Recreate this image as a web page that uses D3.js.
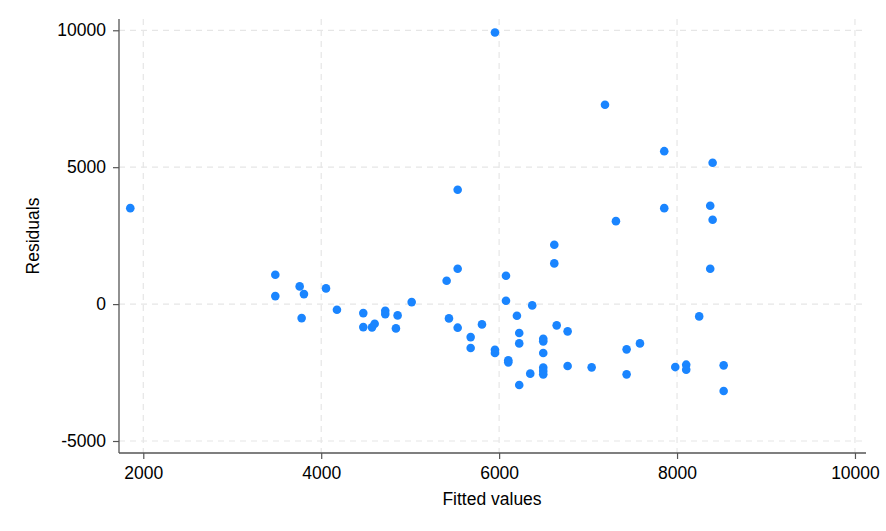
<!DOCTYPE html>
<html>
<head>
<meta charset="utf-8">
<script src="https://cdn.jsdelivr.net/npm/d3@7"></script>
<style>
  html, body { margin: 0; padding: 0; background: #fff; }
  svg { display: block; }
  text { font-family: "Liberation Sans", Arial, sans-serif; fill: #000; }
</style>
</head>
<body>
<svg id="chart" width="886" height="531"></svg>
<script>
const fitted = [
  1854, 5953, 7190, 7856, 5534, 7856, 7313, 6620, 8400, 8373,
  8400, 8373, 8249, 7980, 8103, 8103, 8524, 8524, 3484, 3484,
  3758, 3806, 3780, 4054, 4177, 4473, 4473, 4571, 4601, 4720,
  4720, 4840, 4859, 5017, 5410, 5534, 5436, 5534, 5807, 5680,
  5680, 5953, 5953, 6077, 6077, 6103, 6103, 6200, 6226, 6226,
  6226, 6372, 6350, 6496, 6496, 6496, 6496, 6496, 6496, 6620,
  6647, 6770, 6770, 7040, 7433, 7583, 7433
];
const residuals = [
  3504, 9917, 7278, 5585, 4175, 3504, 3030, 2168, 5161, 3592,
  3081, 1292, -449, -2300, -2212, -2394, -2237, -3175, 1073, 292,
  646, 365, -511, 573, -204, -329, -840, -850, -716, -241,
  -365, -887, -412, 73, 854, 1292, -522, -861, -741, -1205,
  -1606, -1665, -1788, 1037, 124, -2055, -2128, -423, -1058, -1435,
  -2956, -47, -2540, -1263, -1361, -1788, -2321, -2446, -2566, 1486,
  -777, -996, -2263, -2310, -1653, -1435, -2566
];
const xTicks = [2000, 4000, 6000, 8000, 10000];
const yTicks = [-5000, 0, 5000, 10000];

(function () {
const svg = d3.select("#chart");
const pL = 119, pR = 866, pT = 19, pB = 453;
const fs = 17.5;

const x = d3.scaleLinear().domain([1727, 10124]).range([pL, pR]);
const y = d3.scaleLinear().domain([-5438, 10412]).range([pB, pT]);

// gridlines
const grid = svg.append("g");
grid.selectAll("line.gx").data(xTicks).enter().append("line")
  .attr("x1", d => x(d)).attr("x2", d => x(d))
  .attr("y1", pT).attr("y2", pB)
  .attr("stroke", "#e6e6e6").attr("stroke-width", 1.2).attr("stroke-dasharray", "6,5");
grid.selectAll("line.gy").data(yTicks).enter().append("line")
  .attr("x1", pL).attr("x2", pR - 4)
  .attr("y1", d => y(d)).attr("y2", d => y(d))
  .attr("stroke", "#e6e6e6").attr("stroke-width", 1.2).attr("stroke-dasharray", "6,5");

// axes
const fmt = d => String(d);
const xAxis = d3.axisBottom(x).tickValues(xTicks).tickSize(6).tickPadding(8).tickFormat(fmt);
const yAxis = d3.axisLeft(y).tickValues(yTicks).tickSize(6).tickPadding(7).tickFormat(fmt);

const gx = svg.append("g").attr("transform", `translate(0,${pB})`).call(xAxis);
const gy = svg.append("g").attr("transform", `translate(${pL},0)`).call(yAxis);
[gx, gy].forEach(g => {
  g.select(".domain").attr("stroke", "#555").attr("stroke-width", 1.3);
  g.selectAll(".tick line").attr("stroke", "#555").attr("stroke-width", 1.2);
  g.selectAll(".tick text").attr("font-size", fs).attr("fill", "#000")
    .attr("font-family", "'Liberation Sans', Arial, sans-serif");
});
gx.select(".domain").attr("d", `M${pL},0H${pR}`);
gy.select(".domain").attr("d", `M0,${pT}V${pB}`);

// points
svg.append("g").selectAll("circle").data(fitted).enter().append("circle")
  .attr("cx", (d) => x(d))
  .attr("cy", (d, i) => y(residuals[i]))
  .attr("r", 4.3)
  .attr("fill", "#1a85ff");

// labels
svg.append("text").attr("x", 492).attr("y", 505).attr("text-anchor", "middle")
  .attr("font-size", fs).text("Fitted values");
svg.append("text").attr("transform", `translate(39,236) rotate(-90)`)
  .attr("text-anchor", "middle").attr("font-size", fs).text("Residuals");
})();
</script>
</body>
</html>
